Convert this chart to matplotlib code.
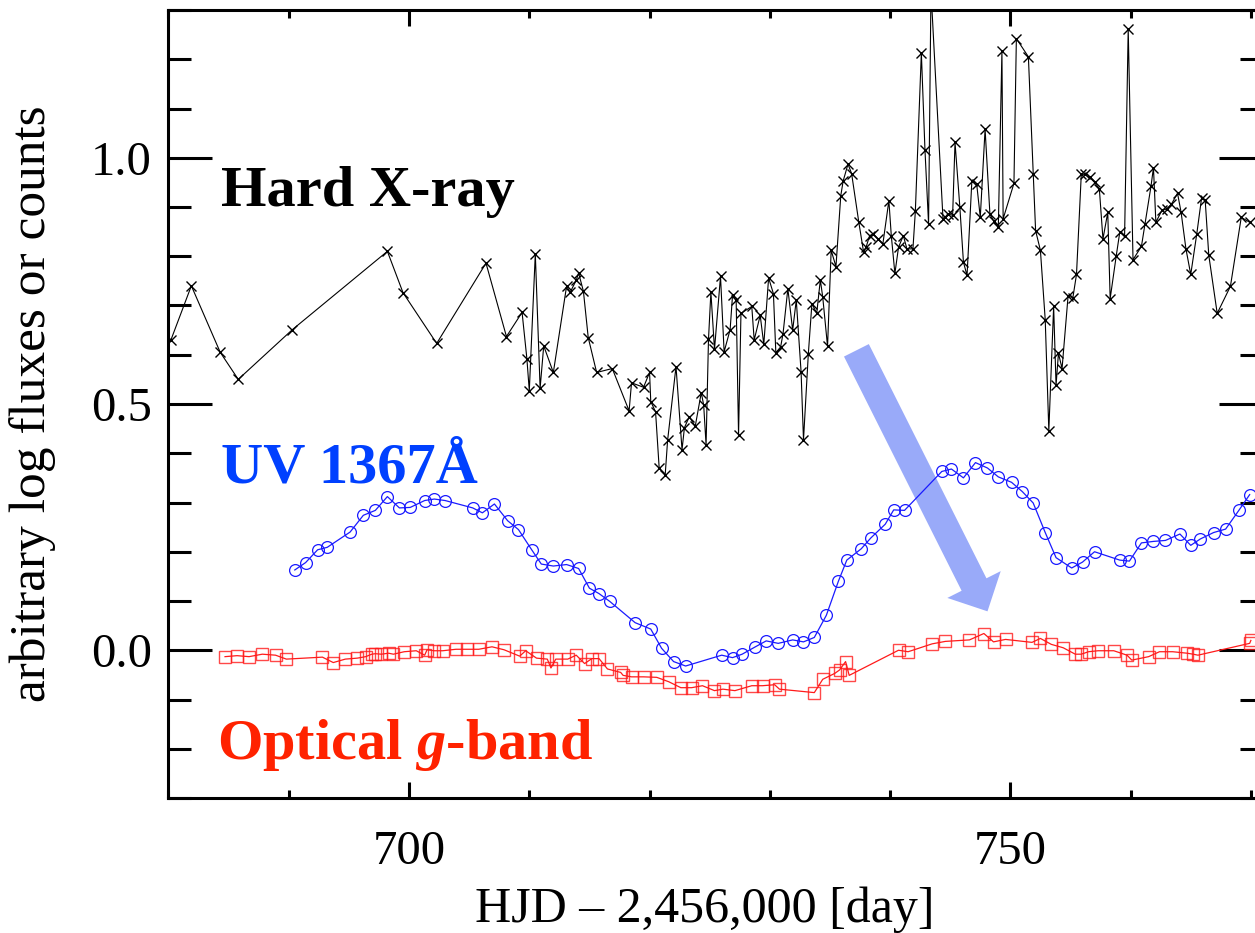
import matplotlib
matplotlib.use("Agg")
import matplotlib.pyplot as plt
from matplotlib.ticker import MultipleLocator, FormatStrFormatter

plt.rcParams['font.family'] = ['Liberation Serif', 'DejaVu Serif']
plt.rcParams['mathtext.fontset'] = 'custom'
plt.rcParams['mathtext.rm'] = 'Liberation Serif:bold'
plt.rcParams['mathtext.it'] = 'Liberation Serif:italic:bold'
plt.rcParams['mathtext.bf'] = 'Liberation Serif:bold'

# Hard X-ray light curve (HJD - 2,456,000, arbitrary log counts)
xray_t = [680.2, 681.9, 684.3, 685.8, 690.3, 698.2, 699.5, 702.3, 706.4, 708.1,
          709.4, 709.8, 710.0, 710.5, 710.9, 711.2, 712.0, 713.1, 713.4, 713.9,
          714.1, 714.5, 714.9, 715.6, 716.9, 718.3, 718.5, 719.5, 720.0, 720.1,
          720.5, 720.8, 721.3, 721.5, 722.2, 722.7, 722.9, 723.3, 723.8, 724.3,
          724.5, 724.7, 724.9, 725.1, 725.4, 725.9, 726.2, 726.7, 726.9, 727.2,
          727.4, 727.6, 728.5, 728.7, 729.2, 729.5, 729.9, 730.3, 730.5, 730.9,
          731.1, 731.5, 731.9, 732.2, 732.6, 732.8, 733.2, 733.5, 733.9, 734.2,
          734.4, 734.8, 735.1, 735.5, 735.9, 736.1, 736.5, 736.8, 737.4, 737.8,
          738.0, 738.3, 738.6, 739.0, 739.4, 739.9, 740.1, 740.4, 740.7, 741.1,
          741.4, 741.9, 742.1, 742.6, 742.9, 743.2, 743.4, 744.4, 744.6, 744.8,
          745.2, 745.4, 745.8, 746.1, 746.4, 746.8, 747.2, 747.5, 747.9, 748.3,
          748.6, 749.0, 749.3, 749.4, 750.3, 750.5, 751.5, 751.9, 752.1, 752.5,
          752.9, 753.2, 753.6, 753.8, 754.0, 754.3, 754.8, 755.2, 755.5, 755.9,
          756.2, 756.6, 757.0, 757.4, 757.7, 758.1, 758.3, 758.8, 759.1, 759.5,
          759.8, 760.2, 760.9, 761.2, 761.7, 761.9, 762.1, 762.6, 763.0, 763.4,
          763.9, 764.2, 764.6, 765.0, 765.5, 765.9, 766.2, 766.5, 767.2, 768.3,
          769.2, 769.9]
xray_v = [0.630, 0.740, 0.605, 0.550, 0.651, 0.810, 0.726, 0.623, 0.786, 0.637,
          0.686, 0.592, 0.527, 0.805, 0.532, 0.618, 0.564, 0.739, 0.727, 0.751,
          0.766, 0.729, 0.635, 0.564, 0.572, 0.486, 0.543, 0.534, 0.564, 0.505,
          0.484, 0.370, 0.356, 0.426, 0.576, 0.407, 0.452, 0.474, 0.455, 0.523,
          0.498, 0.417, 0.631, 0.727, 0.611, 0.759, 0.606, 0.651, 0.721, 0.711,
          0.437, 0.684, 0.698, 0.630, 0.680, 0.621, 0.756, 0.724, 0.604, 0.616,
          0.643, 0.734, 0.650, 0.711, 0.565, 0.427, 0.601, 0.704, 0.684, 0.752,
          0.717, 0.617, 0.812, 0.779, 0.923, 0.953, 0.987, 0.968, 0.869, 0.808,
          0.818, 0.842, 0.845, 0.835, 0.825, 0.913, 0.842, 0.765, 0.818, 0.842,
          0.815, 0.815, 0.891, 1.213, 1.016, 0.866, 1.340, 0.876, 0.880, 0.886,
          0.883, 1.031, 0.900, 0.788, 0.761, 0.953, 0.947, 0.879, 1.058, 0.886,
          0.872, 0.859, 1.217, 0.876, 0.948, 1.242, 1.205, 0.968, 0.852, 0.812,
          0.671, 0.446, 0.698, 0.538, 0.603, 0.572, 0.719, 0.716, 0.763, 0.967,
          0.966, 0.960, 0.950, 0.937, 0.835, 0.889, 0.714, 0.800, 0.849, 0.842,
          1.261, 0.793, 0.820, 0.866, 0.943, 0.980, 0.869, 0.893, 0.896, 0.906,
          0.928, 0.889, 0.815, 0.763, 0.845, 0.918, 0.914, 0.802, 0.684, 0.739,
          0.879, 0.869]

# UV 1367 A light curve
uv_t = [690.5, 691.4, 692.4, 693.2, 695.1, 696.2, 697.2, 698.2, 699.2, 700.1,
        701.3, 702.1, 703.0, 705.3, 706.1, 707.1, 708.2, 709.1, 710.2, 711.0,
        712.0, 713.1, 714.1, 715.0, 715.8, 716.7, 718.8, 720.1, 721.0, 722.0,
        723.0, 726.0, 726.9, 727.7, 728.8, 729.7, 730.7, 731.9, 732.8, 733.7,
        734.7, 735.7, 736.4, 737.6, 738.4, 739.6, 740.3, 741.2, 744.3, 745.1,
        746.1, 747.1, 748.1, 749.0, 750.1, 751.0, 751.9, 752.9, 753.8, 755.1,
        756.0, 757.0, 759.1, 759.9, 760.9, 761.9, 762.9, 764.1, 765.0, 765.8,
        766.9, 767.9, 769.0, 769.9]
uv_v = [0.163, 0.178, 0.204, 0.209, 0.240, 0.274, 0.284, 0.312, 0.289, 0.290,
        0.304, 0.307, 0.304, 0.289, 0.279, 0.297, 0.263, 0.245, 0.204, 0.175,
        0.171, 0.174, 0.166, 0.126, 0.115, 0.099, 0.056, 0.043, 0.004, -0.023,
        -0.032, -0.010, -0.015, -0.008, 0.007, 0.019, 0.014, 0.021, 0.017, 0.026,
        0.071, 0.140, 0.183, 0.206, 0.228, 0.256, 0.285, 0.284, 0.363, 0.368,
        0.350, 0.381, 0.370, 0.352, 0.341, 0.322, 0.299, 0.239, 0.188, 0.167,
        0.179, 0.200, 0.183, 0.181, 0.218, 0.221, 0.223, 0.236, 0.213, 0.226,
        0.239, 0.246, 0.284, 0.316]

# Optical g-band light curve
opt_t = [684.7, 685.7, 686.7, 687.8, 688.9, 689.8, 692.8, 693.7, 694.7, 695.7,
         696.4, 696.9, 697.2, 697.7, 698.3, 698.7, 699.6, 700.6, 701.3, 701.5,
         702.1, 702.8, 703.9, 704.8, 705.8, 706.9, 707.9, 709.2, 709.7, 710.6,
         711.5, 711.8, 712.2, 713.2, 713.9, 714.6, 715.2, 715.8, 716.5, 717.6,
         717.8, 718.5, 719.5, 720.6, 721.6, 722.6, 723.5, 724.4, 725.4, 726.1,
         727.1, 728.5, 729.4, 730.4, 730.8, 733.7, 734.4, 735.4, 735.8, 736.3,
         736.6, 740.7, 741.5, 743.5, 744.6, 746.6, 747.8, 748.6, 749.6, 751.8,
         752.5, 753.4, 754.4, 755.4, 755.9, 756.5, 757.3, 758.6, 759.7, 760.1,
         761.5, 762.4, 763.5, 764.7, 765.2, 765.6, 769.9, 770.0]
opt_v = [-0.013, -0.011, -0.013, -0.008, -0.010, -0.018, -0.014, -0.025, -0.018, -0.016,
         -0.013, -0.008, -0.007, -0.008, -0.006, -0.008, -0.003, -0.001, -0.010, 0.001,
         -0.001, -0.001, 0.002, 0.002, 0.002, 0.007, 0.001, -0.012, -0.001, -0.016,
         -0.018, -0.036, -0.018, -0.018, -0.010, -0.027, -0.017, -0.017, -0.038, -0.045,
         -0.051, -0.054, -0.054, -0.055, -0.064, -0.076, -0.076, -0.072, -0.082, -0.079,
         -0.082, -0.072, -0.072, -0.070, -0.079, -0.086, -0.059, -0.047, -0.040, -0.023,
         -0.051, 0.000, -0.003, 0.013, 0.018, 0.021, 0.034, 0.017, 0.022, 0.016,
         0.024, 0.012, 0.005, -0.008, -0.008, -0.003, -0.001, -0.001, -0.010, -0.020,
         -0.013, -0.003, -0.003, -0.006, -0.008, -0.010, 0.014, 0.020]

# Arrow from the X-ray variations down to the optical response
arrow_tail = (737.2, 0.609)
arrow_head = (748.1, 0.079)

fig = plt.figure(figsize=(12.55, 9.33), dpi=100)
ax = fig.add_axes([168.5 / 1255, 135 / 933, 1094.4 / 1255, 788 / 933])

ax.annotate('', xy=arrow_head, xytext=arrow_tail,
            arrowprops=dict(arrowstyle='simple,head_length=1.08,head_width=2.15,tail_width=1.0',
                            mutation_scale=20, fc='#99aaf9', ec='none',
                            shrinkA=0, shrinkB=0), zorder=1)

ax.plot(xray_t, xray_v, color='black', lw=0.8, marker='x', ms=7.5, mew=1.0, zorder=3)
ax.plot(uv_t, uv_v, color='#1a1aff', lw=0.9, marker='o', ms=8.5, mfc='none',
        mec='#1a1aff', mew=0.9, zorder=3)
ax.plot(opt_t, opt_v, color='#ff1a1a', lw=0.9, marker='s', ms=8, mfc='none',
        mec=(1.0, 0.1, 0.1, 0.8), mew=1.0, zorder=3)

ax.set_xlim(680, 771)
ax.set_ylim(-0.3, 1.3)

ax.xaxis.set_major_locator(MultipleLocator(50))
ax.xaxis.set_minor_locator(MultipleLocator(10))
ax.yaxis.set_major_locator(MultipleLocator(0.5))
ax.yaxis.set_minor_locator(MultipleLocator(0.1))
ax.yaxis.set_major_formatter(FormatStrFormatter('%.1f'))

for s in ax.spines.values():
    s.set_linewidth(2.2)

ax.tick_params(axis='both', which='both', direction='in', width=2.2,
               top=True, bottom=True, left=True, right=True, labelsize=35)
ax.tick_params(axis='y', which='major', length=32, pad=12)
ax.tick_params(axis='y', which='minor', length=16.5)
ax.tick_params(axis='x', which='major', length=11.5, pad=23)
ax.tick_params(axis='x', which='minor', length=6)

ax.set_xlabel('HJD \u2013 2,456,000 [day]', fontsize=36, va='baseline')
ax.xaxis.set_label_coords(0.490, -0.157)
ax.set_ylabel('arbitrary log fluxes or counts', fontsize=37, va='center')
ax.yaxis.set_label_coords(-0.124, 0.5)

ax.text(684.4, 0.903, 'Hard X-ray', fontsize=42, fontweight='bold',
        color='black', va='baseline', ha='left')
ax.text(684.4, 0.340, 'UV 1367\u00c5', fontsize=42, fontweight='bold',
        color='#0040ff', va='baseline', ha='left')
ax.text(684.0, -0.221, r'Optical $g$-band', fontsize=42, fontweight='bold',
        color='#ff2200', va='baseline', ha='left')

fig.savefig('out.png', dpi=100)
